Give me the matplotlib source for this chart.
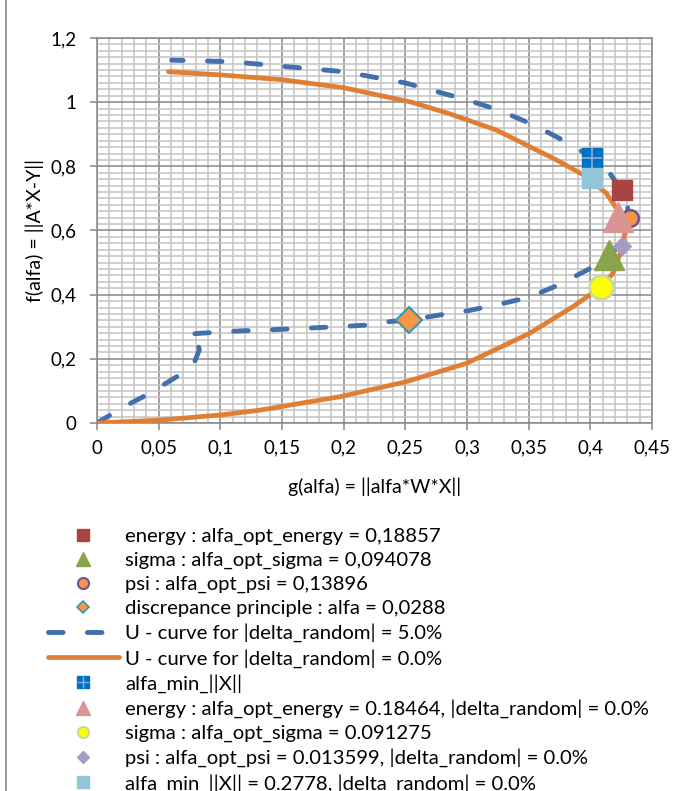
import matplotlib.pyplot as plt
from matplotlib.lines import Line2D
from matplotlib.ticker import MultipleLocator

plt.rcParams['font.family'] = ['Lato', 'DejaVu Sans']

# U - curve, |delta_random| = 5.0%  (g, f)
g_5 = [0.0, 0.013, 0.027, 0.040, 0.056, 0.070, 0.079, 0.083, 0.081, 0.074, 0.089, 0.116,
       0.15, 0.2, 0.218, 0.237, 0.253, 0.269, 0.283, 0.301, 0.327, 0.344, 0.358, 0.374,
       0.387, 0.405, 0.418, 0.4265, 0.429, 0.430, 0.4306, 0.4157, 0.410, 0.391, 0.3765,
       0.362, 0.348, 0.332, 0.317, 0.300, 0.25, 0.2, 0.15, 0.109, 0.0605]
f_5 = [0.0, 0.030, 0.061, 0.087, 0.124, 0.157, 0.190, 0.228, 0.258, 0.277, 0.281, 0.287,
       0.292, 0.301, 0.305, 0.316, 0.321, 0.331, 0.340, 0.350, 0.371, 0.386, 0.404, 0.430,
       0.456, 0.492, 0.530, 0.570, 0.601, 0.640, 0.695, 0.779, 0.815, 0.851, 0.884,
       0.913, 0.939, 0.965, 0.986, 1.007, 1.060, 1.095, 1.112, 1.126, 1.131]

# U - curve, |delta_random| = 0.0%
g_0 = [0.0, 0.051, 0.100, 0.132, 0.197, 0.25, 0.2996, 0.351, 0.386, 0.409, 0.4184, 0.4252,
       0.4279, 0.4238, 0.413, 0.3968, 0.3725, 0.3239, 0.285, 0.255, 0.2, 0.15, 0.1, 0.058]
f_0 = [0.0, 0.009, 0.025, 0.040, 0.082, 0.128, 0.186, 0.280, 0.363, 0.425, 0.467, 0.539,
       0.591, 0.654, 0.716, 0.768, 0.820, 0.913, 0.965, 1.000, 1.045, 1.070, 1.085, 1.095]

# optimum points
energy_g, energy_f = [0.426], [0.726]
sigma_g, sigma_f = [0.415], [0.524]
psi_g, psi_f = [0.432], [0.638]
discr_g, discr_f = [0.253], [0.321]
amin_g, amin_f = [0.4016], [0.825]
energy0_g, energy0_f = [0.4225], [0.641]
sigma0_g, sigma0_f = [0.409], [0.423]
psi0_g, psi0_f = [0.426], [0.552]
amin0_g, amin0_f = [0.4016], [0.763]

labels = [
    'energy : alfa_opt_energy = 0,18857',
    'sigma : alfa_opt_sigma = 0,094078',
    'psi : alfa_opt_psi = 0,13896',
    'discrepance principle : alfa = 0,0288',
    'U - curve for |delta_random| = 5.0%',
    'U - curve for |delta_random| = 0.0%',
    'alfa_min_||X||',
    'energy : alfa_opt_energy = 0.18464, |delta_random| = 0.0%',
    'sigma : alfa_opt_sigma = 0.091275',
    'psi : alfa_opt_psi = 0.013599, |delta_random| = 0.0%',
    'alfa_min_||X|| = 0.2778, |delta_random| = 0.0%',
]

xticks = [0, 0.05, 0.1, 0.15, 0.2, 0.25, 0.3, 0.35, 0.4, 0.45]
xticklabels = ['0', '0,05', '0,1', '0,15', '0,2', '0,25', '0,3', '0,35', '0,4', '0,45']
yticks = [0, 0.2, 0.4, 0.6, 0.8, 1.0, 1.2]
yticklabels = ['0', '0,2', '0,4', '0,6', '0,8', '1', '1,2']

BLUE = '#4170AC'
ORANGE = '#E07F34'
GRID = '#878787'
FS = 13.5

fig = plt.figure(figsize=(6.83, 7.91), dpi=100)
ax = fig.add_axes([97 / 683, 1 - 423 / 791, 555 / 683, 385 / 791])

ax.plot(g_5, f_5, color=BLUE, lw=3.5, dashes=(3, 5), dash_capstyle='round', zorder=3)
ax.plot(g_0, f_0, color=ORANGE, lw=3.4, solid_capstyle='round', zorder=3)

# markers (drawn in series order, later ones on top)
ax.plot(energy_g, energy_f, 's', ms=14, mfc='#A84442', mec='#A84442', zorder=4)
ax.plot(sigma_g, sigma_f, '^', ms=21, mfc='#88A44D', mec='#88A44D', zorder=4)
ax.plot(psi_g, psi_f, 'o', ms=12, mfc='#F69545', mec='#6F5590', mew=1.8, zorder=4)
ax.plot(discr_g, discr_f, 'D', ms=13.5, mfc='#F69545', mec='#3A97AE', mew=1.5, zorder=4)
ax.plot(amin_g, amin_f, 's', ms=14, mfc='#0070C0', mec='#0070C0', zorder=5)
ax.plot(amin_g, amin_f, '+', ms=14, mec='#8DB0DA', mew=1.2, zorder=5)
ax.plot(energy0_g, energy0_f, '^', ms=21, mfc='#D99594', mec='#D99594', zorder=6)
ax.plot(sigma0_g, sigma0_f, 'o', ms=17, mfc='#FFFF00', mec='#C7DB9C', mew=2, zorder=6)
ax.plot(psi0_g, psi0_f, 'D', ms=9.5, mfc='#A79BC2', mec='#A79BC2', zorder=6)
ax.plot(amin0_g, amin0_f, 's', ms=14.5, mfc='#92C5D5', mec='#92C5D5', zorder=6)

ax.set_xlim(0, 0.45)
ax.set_ylim(0, 1.2)
ax.set_xticks(xticks)
ax.set_xticklabels(xticklabels)
ax.set_yticks(yticks)
ax.set_yticklabels(yticklabels)
ax.xaxis.set_minor_locator(MultipleLocator(0.01))
ax.yaxis.set_minor_locator(MultipleLocator(0.02))
ax.grid(which='minor', color='#C3C3C3', lw=1.1)
ax.grid(which='major', color=GRID, lw=1.1)
ax.set_axisbelow(True)
ax.tick_params(which='minor', length=0)
ax.tick_params(which='major', length=5, width=1.1, color=GRID, labelsize=FS)
ax.tick_params(axis='x', pad=7)
ax.tick_params(axis='y', pad=10)
for s in ax.spines.values():
    s.set_color(GRID)
    s.set_linewidth(1.1)

ax.set_xlabel('g(alfa) = ||alfa*W*X||', fontsize=FS + 0.5, va='center')
ax.set_ylabel('f(alfa) = ||A*X-Y||', fontsize=FS + 0.5, va='center')
ax.xaxis.set_label_coords(0.5, -0.166)
ax.yaxis.set_label_coords(-0.112, 0.5)

# legend proxies (smaller markers, as in the original legend)
amin_h = (Line2D([], [], ls='none', marker='s', ms=9, mfc='#0070C0', mec='#0070C0'),
          Line2D([], [], ls='none', marker='+', ms=9, mec='#8DB0DA', mew=1))
handles = [
    Line2D([], [], ls='none', marker='s', ms=9, mfc='#A84442', mec='#A84442'),
    Line2D([], [], ls='none', marker='^', ms=10, mfc='#88A44D', mec='#88A44D'),
    Line2D([], [], ls='none', marker='o', ms=8, mfc='#F69545', mec='#6F5590', mew=1.5),
    Line2D([], [], ls='none', marker='D', ms=6.5, mfc='#F69545', mec='#3A97AE', mew=1.2),
    Line2D([], [], color=BLUE, lw=3.5, dashes=(3, 5), dash_capstyle='round'),
    Line2D([], [], color=ORANGE, lw=3.4, solid_capstyle='round'),
    amin_h,
    Line2D([], [], ls='none', marker='^', ms=10, mfc='#D99594', mec='#D99594'),
    Line2D([], [], ls='none', marker='o', ms=8, mfc='#FFFF00', mec='#C7DB9C', mew=1.5),
    Line2D([], [], ls='none', marker='D', ms=6.5, mfc='#A79BC2', mec='#A79BC2'),
    Line2D([], [], ls='none', marker='s', ms=9, mfc='#92C5D5', mec='#92C5D5'),
]
fig.legend(handles, labels, loc='upper left', bbox_to_anchor=(48 / 683, 1 - 528 / 791),
           frameon=False, borderpad=0, borderaxespad=0, fontsize=14.6,
           handlelength=3.5, handletextpad=0.3, labelspacing=0.32)

# chart area border on the left
fig.add_artist(Line2D([6 / 683, 6 / 683], [0, 1], transform=fig.transFigure,
                      color=GRID, lw=1.2))

fig.savefig('out.png', dpi=100)
